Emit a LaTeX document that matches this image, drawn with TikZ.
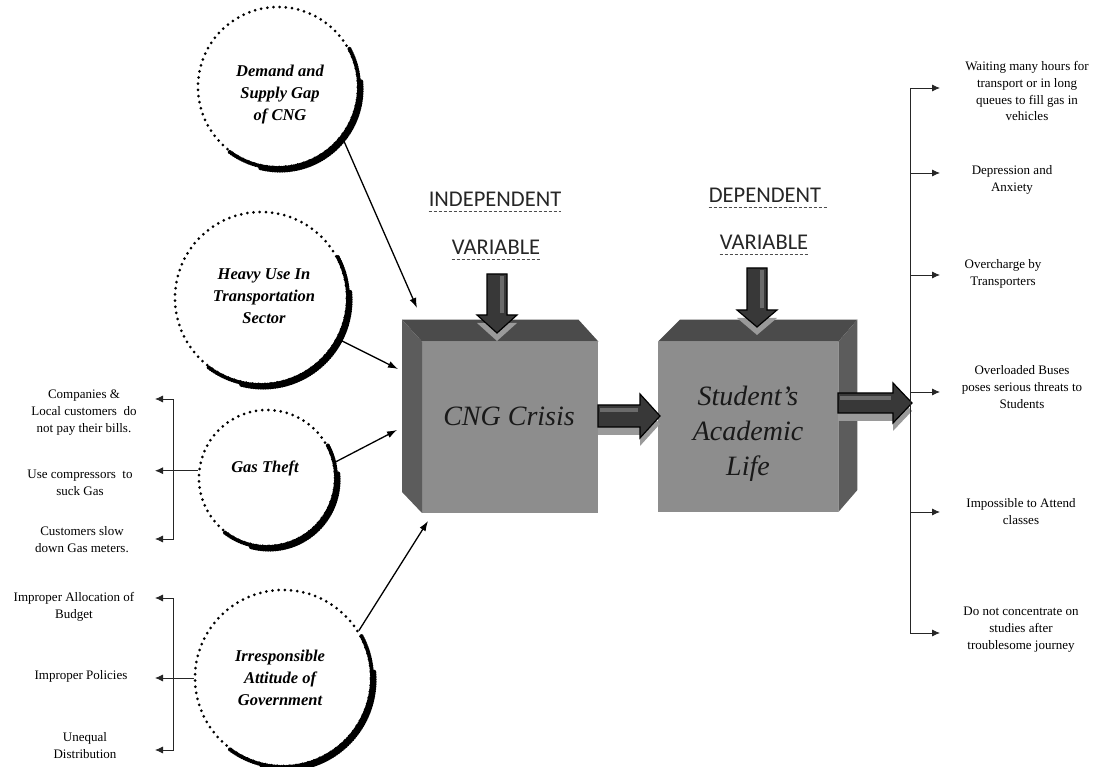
\documentclass[tikz,border=0pt]{standalone}
\usepackage{fontspec}
\setmainfont{Liberation Serif}
\newfontfamily\varfont{Carlito}
\usetikzlibrary{arrows.meta,positioning}
\definecolor{FaceClr}{HTML}{8D8D8D}
\definecolor{TopClr}{HTML}{4B4B4B}
\definecolor{SideClr}{HTML}{5C5C5C}
\definecolor{ArrowClr}{HTML}{383838}
\definecolor{ShadowClr}{HTML}{9A9A9A}

\tikzset{
  >={Latex[length=8pt,width=7pt]},
  factor/.style={circle,draw=black,line width=3pt,dash pattern=on 0pt off 6.2pt,line cap=round,inner sep=0pt},
  rim/.style={line width=4.2pt,dash pattern=on 0pt off 2.4pt,line cap=round},
  factortext/.style={font=\fontsize{16.5}{22}\selectfont\bfseries\itshape,align=center},
  item/.style={font=\fontsize{13}{17}\selectfont,align=center,inner sep=0pt},
  link/.style={line width=1.3pt,-{Latex[length=10pt,width=7pt]}},
  branch/.style={line width=0.8pt,draw=black!85},
  varlabel/.style={font=\varfont\fontsize{22.5}{26}\selectfont,inner sep=0pt,text=black!85,anchor=base},
  underl/.style={line width=0.6pt,dash pattern=on 3pt off 2pt,black!70},
  face/.style={fill=FaceClr,inner sep=0pt,anchor=south west},
  boxtext/.style={font=\fontsize{28}{35}\selectfont\itshape,align=center,text=black!90},
}

% heavy rim on the lower right of a factor circle
\newcommand{\rim}[2]{%
  \draw[rim] ([shift={(28:{#2+1})}]#1.center) arc[start angle=28,end angle=-128,radius={#2+1}];
  \draw[rim,line width=5.4pt] ([shift={(2,-2)}]#1.center) ++(5:{#2+1}) arc[start angle=5,end angle=-105,radius={#2+1}];
}
% block arrow: start, direction, length, shaft half width, head half width, head length
\newcommand{\blockarrow}[6]{%
  \fill[ShadowClr,shift={#1},shift={(0,-8)},rotate=#2]
    (0,#4) -- ({#3-#6},#4) -- ({#3-#6},#5) -- (#3,0) -- ({#3-#6},-#5) -- ({#3-#6},-#4) -- (0,-#4) -- cycle;
  \filldraw[fill=ArrowClr,draw=black,line width=1.2pt,line join=miter,shift={#1},rotate=#2]
    (0,#4) -- ({#3-#6},#4) -- ({#3-#6},#5) -- (#3,0) -- ({#3-#6},-#5) -- ({#3-#6},-#4) -- (0,-#4) -- cycle;
  \fill[black!58,shift={#1},rotate=#2] (2,{#4-3}) rectangle ({#3-#6-2},{#4-7});
}

\begin{document}
\begin{tikzpicture}[x=1pt,y=1pt]
\useasboundingbox (0,0) rectangle (1095,767);

% causes
\node[factor,minimum size=160] (demand) at (278,680) {};
\node[factor,minimum size=172] (heavy) at (261,469) {};
\node[factor,minimum size=136] (gas) at (267,289) {};
\node[factor,minimum size=176] (gov) at (283,89) {};
\rim{demand}{80}
\rim{heavy}{86}
\rim{gas}{68}
\rim{gov}{88}

\node[factortext] (demandtxt) at (280,672) {Demand and\\Supply Gap\\of CNG};
\node[factortext] (heavytxt) at (264,471) {Heavy Use In\\Transportation\\Sector};
\node[factortext] (gastxt) at (265,299) {Gas Theft};
\node[factortext] (govtxt) at (280,89) {Irresponsible\\Attitude of\\Government};

% boxes
\node[face,minimum width=176,minimum height=171] (cng) at (422,254) {};
\fill[TopClr] ([shift={(-20,22)}]cng.north west) -- ([shift={(-20,22)}]cng.north east)
  -- (cng.north east) -- (cng.north west) -- cycle;
\fill[SideClr] ([shift={(-20,22)}]cng.north west) -- (cng.north west) -- (cng.south west)
  -- ([shift={(-20,21)}]cng.south west) -- cycle;
\node[boxtext] (cngtxt) at (509,351) {CNG Crisis};

\node[face,minimum width=180,minimum height=170] (life) at (658,255) {};
\fill[TopClr] (life.north west) -- ([shift={(22,22)}]life.north west)
  -- ([shift={(19,22)}]life.north east) -- (life.north east) -- cycle;
\fill[SideClr] (life.north east) -- ([shift={(19,22)}]life.north east)
  -- ([shift={(19,22)}]life.south east) -- (life.south east) -- cycle;
\node[boxtext] (lifetxt) at (748,333) {Student's\\Academic\\Life};

% labels
\node[varlabel] (indep) at (495,560) {INDEPENDENT};
\node[varlabel] (indepvar) at (496,512) {VARIABLE};
\node[varlabel] (dep) at (765,564) {DEPENDENT};
\node[varlabel] (depvar) at (764,517) {VARIABLE};
\draw[underl] ([yshift=-4]indep.base west) -- ([yshift=-4]indep.base east);
\draw[underl] ([yshift=-4]indepvar.base west) -- ([yshift=-4]indepvar.base east);
\draw[underl] ([yshift=-4]dep.base west) -- ([shift={(6,-4)}]dep.base east);
\draw[underl] ([yshift=-4]depvar.base west) -- ([yshift=-4]depvar.base east);

% block arrows
\blockarrow{(497,493)}{-90}{59}{10}{20}{18}
\blockarrow{(757,499)}{-90}{59}{10}{20}{17}
\blockarrow{(598,351)}{0}{62}{11}{22}{20}
\blockarrow{(838,364)}{0}{74}{10}{20}{19}

% causes to crisis
\coordinate (inA) at (417,459);
\coordinate (inB) at (398,398);
\coordinate (inC) at (397,337);
\coordinate (inD) at (428,246);
\draw[link] (demand.-38) -- (inA);
\draw[link] (heavy.-28) -- (inB);
\draw[link] (gas.13) -- (inC);
\draw[link] (gov.32) -- (inD);

% gas theft branches
\node[item] (bills) at (84,354) {Companies \&\\Local customers \ do\\not pay their bills.};
\node[item] (compress) at (80,284) {Use compressors \ to\\suck Gas};
\node[item] (meters) at (82,227) {Customers slow\\down Gas meters.};
\coordinate (gtop) at (173,368);
\coordinate (gbot) at (173,228);
\draw[branch,<->] ([xshift=-18]gtop) -- (gtop) -- (gbot) -- ([xshift=-18]gbot);
\draw[branch,->] (gas.174) -- ([xshift=-18]gas.174 -| gtop);

% government branches
\node[item] (budget) at (74,160) {Improper Allocation of\\Budget};
\node[item] (policy) at (81,91) {Improper Policies};
\node[item] (unequal) at (85,21) {Unequal\\Distribution};
\coordinate (vtop) at (173,169);
\coordinate (vbot) at (173,17);
\draw[branch,<->] ([xshift=-18]vtop) -- (vtop) -- (vbot) -- ([xshift=-18]vbot);
\draw[branch,->] (gov.west) -- ([xshift=-18]gov.west -| vtop);

% effects
\node[item] (queue) at (1027,676) {Waiting many hours for\\transport or in long\\queues to fill gas in\\vehicles};
\node[item] (anxiety) at (1012,587) {Depression and\\Anxiety};
\node[item] (overcharge) at (1003,493) {Overcharge by\\Transporters};
\node[item] (overload) at (1022,380) {Overloaded Buses\\poses serious threats to\\Students};
\node[item] (absent) at (1021,255) {Impossible to Attend\\classes};
\node[item] (focus) at (1021,137) {Do not concentrate on\\studies after\\troublesome journey};
\coordinate (spine) at (910,400);
\draw[branch] (spine |- 0,679) -- (spine |- 0,134);
\foreach \y in {679,594,492,375,255,134}
  \draw[branch,->] (spine |- 0,\y) -- ++(30,0);

\end{tikzpicture}
\end{document}
